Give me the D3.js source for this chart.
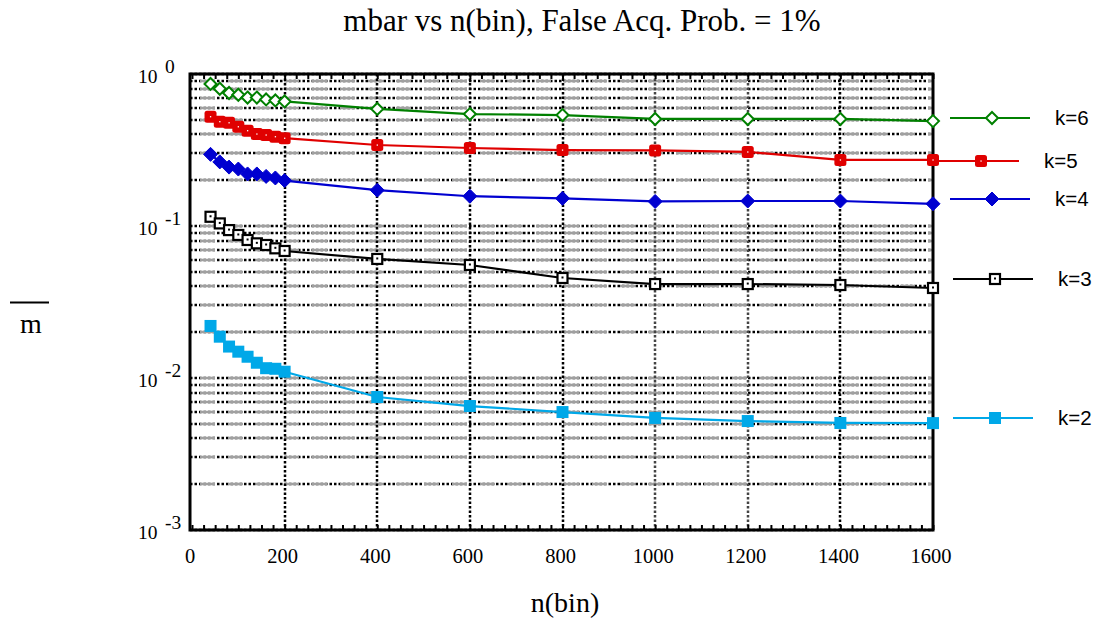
<!DOCTYPE html>
<html>
<head>
<meta charset="utf-8">
<script src="https://cdn.jsdelivr.net/npm/d3@7"></script>
<style>
  body { margin: 0; background: #fff; }
  svg { display: block; }
</style>
</head>
<body>
<svg id="chart" width="1095" height="621"></svg>
<script>
// x values (n(bin))
var nBin = [40, 60, 80, 100, 120, 140, 160, 180, 200, 400, 600, 800, 1000, 1200, 1400, 1600];

// mbar for each k
var k6 = [0.86, 0.80, 0.75, 0.73, 0.70, 0.70, 0.68, 0.67, 0.66, 0.589, 0.545, 0.537, 0.506, 0.506, 0.506, 0.49];
var k5 = [0.524, 0.486, 0.478, 0.45, 0.424, 0.403, 0.397, 0.387, 0.378, 0.341, 0.326, 0.316, 0.314, 0.307, 0.272, 0.272];
var k4 = [0.296, 0.264, 0.244, 0.237, 0.22, 0.22, 0.212, 0.207, 0.199, 0.172, 0.157, 0.152, 0.145, 0.146, 0.146, 0.14];
var k3 = [0.115, 0.104, 0.094, 0.0873, 0.0809, 0.0769, 0.075, 0.0713, 0.0685, 0.0607, 0.0554, 0.0455, 0.0415, 0.0415, 0.0409, 0.0391];
var k2 = [0.022, 0.0187, 0.0161, 0.0149, 0.0138, 0.0126, 0.0116, 0.0115, 0.011, 0.0075, 0.00654, 0.00597, 0.00546, 0.00521, 0.00506, 0.00505];

var seriesNames = ["k=6", "k=5", "k=4", "k=3", "k=2"];
var seriesColors = ["#008000", "#e00000", "#0000d0", "#000000", "#00a8e8"];
var seriesMarkers = ["openDiamond", "filledSquareDot", "filledDiamond", "openSquareDot", "filledSquare"];

var xTicks = [0, 200, 400, 600, 800, 1000, 1200, 1400, 1600];
var yDecades = [0, -1, -2, -3];

// layout
var margin = {top: 74, left: 192, right: 933, bottom: 530};
var legendY = [118, 161, 199, 279, 418];
var legendDx = [0, -11, 0, 3, 3];
var SERIF = "'Liberation Serif', 'Times New Roman', Times, serif";
var SANS = "'Liberation Sans', Arial, Helvetica, sans-serif";

var svg = d3.select("#chart");

var xScale = d3.scaleLinear().domain([0, 1600]).range([margin.left, margin.right]);
var yScale = d3.scaleLog().domain([1e-3, 1]).range([margin.bottom, margin.top]);

var plotLeft = 190;

// horizontal grid at every 1..9 x decade
var yGridVals = [];
for (var e = -3; e < 0; e++) {
  for (var m = 1; m < 10; m++) {
    yGridVals.push(m * Math.pow(10, e));
  }
}
yGridVals.push(1);

var grid = svg.append("g");

grid.selectAll(".hgrid-b")
  .data(yGridVals)
  .enter()
  .append("line")
  .attr("x1", plotLeft).attr("x2", margin.right)
  .attr("y1", d => Math.round(yScale(d)))
  .attr("y2", d => Math.round(yScale(d)))
  .attr("stroke", "#000")
  .attr("stroke-width", 2.5)
  .attr("stroke-dasharray", "2.5,2");

grid.selectAll(".hgrid-g")
  .data(yGridVals)
  .enter()
  .append("line")
  .attr("x1", plotLeft).attr("x2", margin.right)
  .attr("y1", d => Math.round(yScale(d)))
  .attr("y2", d => Math.round(yScale(d)))
  .attr("stroke", "#a0a0a0")
  .attr("stroke-width", 2.5)
  .attr("stroke-dasharray", "15,13")
  .attr("stroke-dashoffset", -10);

// vertical grid
grid.selectAll(".vgrid")
  .data(xTicks.slice(1, -1))
  .enter()
  .append("line")
  .attr("x1", d => Math.round(xScale(d)))
  .attr("x2", d => Math.round(xScale(d)))
  .attr("y1", margin.top).attr("y2", margin.bottom)
  .attr("stroke", d => (d == 1000 || d == 1200) ? "#444" : "#000")
  .attr("stroke-width", 2.5)
  .attr("stroke-dasharray", "2.5,2");

// minor ticks, bottom and top, every 25
var xMinor = d3.range(0, 1601, 25);
var bottomAxis = d3.axisBottom(xScale).tickValues(xMinor).tickSize(-5).tickFormat("");
var topAxis = d3.axisTop(xScale).tickValues(xMinor).tickSize(-5).tickFormat("");
svg.append("g").attr("transform", "translate(0," + margin.bottom + ")").call(bottomAxis)
  .call(g => g.select(".domain").remove())
  .selectAll("line").attr("stroke-width", 2);
svg.append("g").attr("transform", "translate(0," + margin.top + ")").call(topAxis)
  .call(g => g.select(".domain").remove())
  .selectAll("line").attr("stroke-width", 2);

// frame
svg.append("rect")
  .attr("x", plotLeft).attr("y", margin.top)
  .attr("width", margin.right - plotLeft)
  .attr("height", margin.bottom - margin.top)
  .attr("fill", "none")
  .attr("stroke", "#000")
  .attr("stroke-width", 3);

// x tick labels
svg.append("g").selectAll("text")
  .data(xTicks)
  .enter()
  .append("text")
  .attr("font-family", SERIF)
  .attr("x", d => xScale(d) - 2)
  .attr("y", 563)
  .attr("text-anchor", "middle")
  .attr("font-size", 20.5)
  .text(d => d);

// y tick labels 10^e
var yLab = svg.append("g").selectAll("g")
  .data(yDecades)
  .enter()
  .append("g");
yLab.append("text")
  .attr("font-family", SERIF)
  .attr("x", 138)
  .attr("y", d => yScale(Math.pow(10, d)) + 9)
  .attr("font-size", 19.5)
  .text("10");
yLab.append("text")
  .attr("font-family", SERIF)
  .attr("x", 165)
  .attr("y", d => yScale(Math.pow(10, d)) - 1)
  .attr("font-size", 19.5)
  .text(d => d);

// series
var allSeries = [k6, k5, k4, k3, k2];
var line = d3.line()
  .x((d, i) => xScale(nBin[i]))
  .y(d => yScale(d));

function drawMarker(g, type, color) {
  if (type == "openDiamond") {
    g.append("path").attr("d", "M0,-6L6,0L0,6L-6,0Z")
      .attr("fill", "#fff").attr("stroke", color).attr("stroke-width", 2);
  } else if (type == "filledDiamond") {
    g.append("path").attr("d", "M0,-7L7,0L0,7L-7,0Z")
      .attr("fill", color).attr("stroke", color).attr("stroke-width", 1);
  } else if (type == "filledSquareDot") {
    g.append("rect").attr("x", -6).attr("y", -6).attr("width", 12).attr("height", 12)
      .attr("rx", 2.5).attr("fill", color);
    g.append("rect").attr("x", -0.6).attr("y", -0.6).attr("width", 1.3).attr("height", 1.3)
      .attr("fill", "#fff");
  } else if (type == "openSquareDot") {
    g.append("rect").attr("x", -5).attr("y", -5).attr("width", 10).attr("height", 10)
      .attr("fill", "#fff").attr("stroke", color).attr("stroke-width", 2.2);
    g.append("rect").attr("x", -1).attr("y", -1.5).attr("width", 2).attr("height", 2)
      .attr("fill", color);
  } else {
    g.append("rect").attr("x", -6).attr("y", -6).attr("width", 12).attr("height", 12)
      .attr("fill", color);
  }
}

allSeries.forEach(function(vals, s) {
  svg.append("path")
    .datum(vals)
    .attr("d", line)
    .attr("fill", "none")
    .attr("stroke", seriesColors[s])
    .attr("stroke-width", 2.2);

  svg.append("g").selectAll("g")
    .data(vals)
    .enter()
    .append("g")
    .attr("transform", (d, i) => "translate(" + xScale(nBin[i]) + "," + yScale(d) + ")")
    .each(function() { drawMarker(d3.select(this), seriesMarkers[s], seriesColors[s]); });

  // legend
  var lg = svg.append("g").attr("transform", "translate(" + legendDx[s] + "," + legendY[s] + ")");
  lg.append("line")
    .attr("x1", 950).attr("x2", 1030)
    .attr("y1", 0).attr("y2", 0)
    .attr("stroke", seriesColors[s])
    .attr("stroke-width", 2.2);
  var mg = lg.append("g").attr("transform", "translate(992,0)");
  drawMarker(mg, seriesMarkers[s], seriesColors[s]);
  lg.append("text")
    .attr("font-family", SANS)
    .attr("x", 1055)
    .attr("y", 7)
    .attr("font-size", 20.5)
    .text(seriesNames[s]);
});

// title
svg.append("text")
  .attr("font-family", SERIF)
  .attr("x", 582)
  .attr("y", 31)
  .attr("text-anchor", "middle")
  .attr("font-size", 31)
  .text("mbar vs n(bin), False Acq. Prob. = 1%");

// x label
svg.append("text")
  .attr("font-family", SERIF)
  .attr("x", 565)
  .attr("y", 612)
  .attr("text-anchor", "middle")
  .attr("font-size", 28)
  .text("n(bin)");

// y label: m with overbar
svg.append("line")
  .attr("x1", 10).attr("x2", 49)
  .attr("y1", 302.5).attr("y2", 302.5)
  .attr("stroke", "#000")
  .attr("stroke-width", 2);
svg.append("text")
  .attr("font-family", SERIF)
  .attr("x", 31)
  .attr("y", 333)
  .attr("text-anchor", "middle")
  .attr("font-size", 28)
  .text("m");
</script>
</body>
</html>
